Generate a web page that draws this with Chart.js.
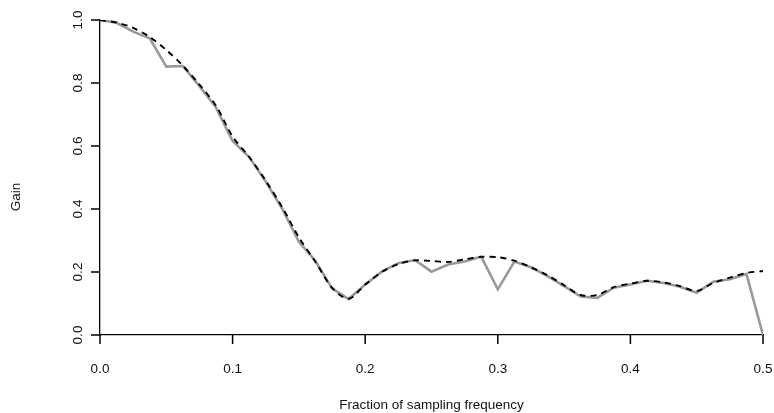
<!DOCTYPE html>
<html>
<head>
<meta charset="utf-8">
<script src="https://cdn.jsdelivr.net/npm/chart.js@4/dist/chart.umd.min.js"></script>
<style>
  html, body { margin: 0; padding: 0; background: #fff; }
  #wrap { width: 774px; height: 413px; }
</style>
</head>
<body>
<div id="wrap"><canvas id="mycanvas" width="774" height="413"></canvas></div>
<script>
// frequencies, step 1/80
var freq = [];
for (var i = 0; i <= 40; i++) freq.push(i / 80);

// observed gain (gray, solid)
var gainObs = [1.000, 0.991, 0.963, 0.942, 0.852, 0.854, 0.790, 0.722, 0.616, 0.565,
               0.487, 0.400, 0.296, 0.235, 0.148, 0.114, 0.160, 0.201, 0.228, 0.238,
               0.201, 0.224, 0.233, 0.249, 0.145, 0.233, 0.215, 0.187, 0.155, 0.122,
               0.118, 0.150, 0.160, 0.172, 0.165, 0.153, 0.134, 0.169, 0.177, 0.194,
               0.000];

// smoothed gain (black, dashed)
var gainSmooth = [1.000, 0.992, 0.975, 0.946, 0.905, 0.855, 0.795, 0.728, 0.630, 0.565,
                  0.490, 0.405, 0.310, 0.232, 0.150, 0.115, 0.160, 0.200, 0.225, 0.237,
                  0.235, 0.232, 0.240, 0.248, 0.247, 0.236, 0.215, 0.190, 0.158, 0.127,
                  0.127, 0.152, 0.163, 0.172, 0.167, 0.155, 0.140, 0.165, 0.182, 0.197,
                  0.203];

var xTicks = [0, 0.1, 0.2, 0.3, 0.4, 0.5];
var yTicks = [0, 0.2, 0.4, 0.6, 0.8, 1.0];

function pts(ys) {
  return ys.map(function (y, i) { return { x: freq[i], y: y }; });
}

var font = "'Liberation Sans', Arial, Helvetica, sans-serif";
var fsize = 13.5;

// R style axes: outward ticks, rotated y labels (Chart.js can't rotate vertical ticks)
var rAxes = {
  id: 'rAxes',
  afterDraw: function (chart) {
    var c = chart.ctx, xs = chart.scales.x, ys = chart.scales.y;
    var a = chart.chartArea;
    c.save();
    c.setLineDash([]);
    c.strokeStyle = '#000';
    c.lineWidth = 1.5;
    c.beginPath();
    xTicks.forEach(function (v) {
      var px = xs.getPixelForValue(v);
      c.moveTo(px, a.bottom);
      c.lineTo(px, a.bottom + 9);
    });
    yTicks.forEach(function (v) {
      var py = ys.getPixelForValue(v);
      c.moveTo(a.left, py);
      c.lineTo(a.left - 9, py);
    });
    c.stroke();

    c.font = fsize + 'px ' + font;
    c.fillStyle = '#111';
    c.textAlign = 'center';
    c.textBaseline = 'middle';
    yTicks.forEach(function (v) {
      var py = ys.getPixelForValue(v);
      c.save();
      c.translate(78, py);
      c.rotate(-Math.PI / 2);
      c.fillText(v.toFixed(1), 0, 0);
      c.restore();
    });
    c.translate(16, 197);
    c.rotate(-Math.PI / 2);
    c.fillText('Gain', 0, 0);
    c.restore();
  }
};

var ctx = document.getElementById('mycanvas');
new Chart(ctx, {
  type: 'line',
  data: {
    datasets: [
      {
        label: 'smoothed',
        data: pts(gainSmooth),
        borderColor: '#000',
        borderWidth: 1.9,
        borderDash: [6, 5],
        pointRadius: 0,
        tension: 0.3,
        order: 0
      },
      {
        label: 'gain',
        data: pts(gainObs),
        borderColor: '#999',
        borderWidth: 2.6,
        pointRadius: 0,
        tension: 0,
        order: 1
      }
    ]
  },
  options: {
    responsive: false,
    animation: false,
    layout: { padding: { top: 20, right: 11, left: 0, bottom: 0 } },
    plugins: { legend: { display: false }, tooltip: { enabled: false } },
    scales: {
      x: {
        type: 'linear',
        min: 0, max: 0.5,
        afterBuildTicks: function (s) { s.ticks = xTicks.map(function (v) { return { value: v }; }); },
        afterFit: function (s) { s.height = 78; s.paddingLeft = 0; s.paddingRight = 0; },
        border: { display: true, color: '#000', width: 1.3 },
        grid: { display: false },
        ticks: {
          color: '#111',
          font: { family: font, size: fsize },
          padding: 18,
          maxRotation: 0,
          callback: function (v) { return v.toFixed(1); }
        },
        title: {
          display: true,
          text: 'Fraction of sampling frequency',
          color: '#111',
          font: { family: font, size: fsize },
          padding: { top: 23, bottom: 0 }
        }
      },
      y: {
        type: 'linear',
        min: 0, max: 1,
        afterBuildTicks: function (s) { s.ticks = yTicks.map(function (v) { return { value: v }; }); },
        afterFit: function (s) { s.width = 100; s.paddingTop = 0; s.paddingBottom = 0; },
        border: { display: true, color: '#000', width: 1.3 },
        grid: { display: false },
        ticks: { display: false }
      }
    }
  },
  plugins: [rAxes]
});
</script>
</body>
</html>
